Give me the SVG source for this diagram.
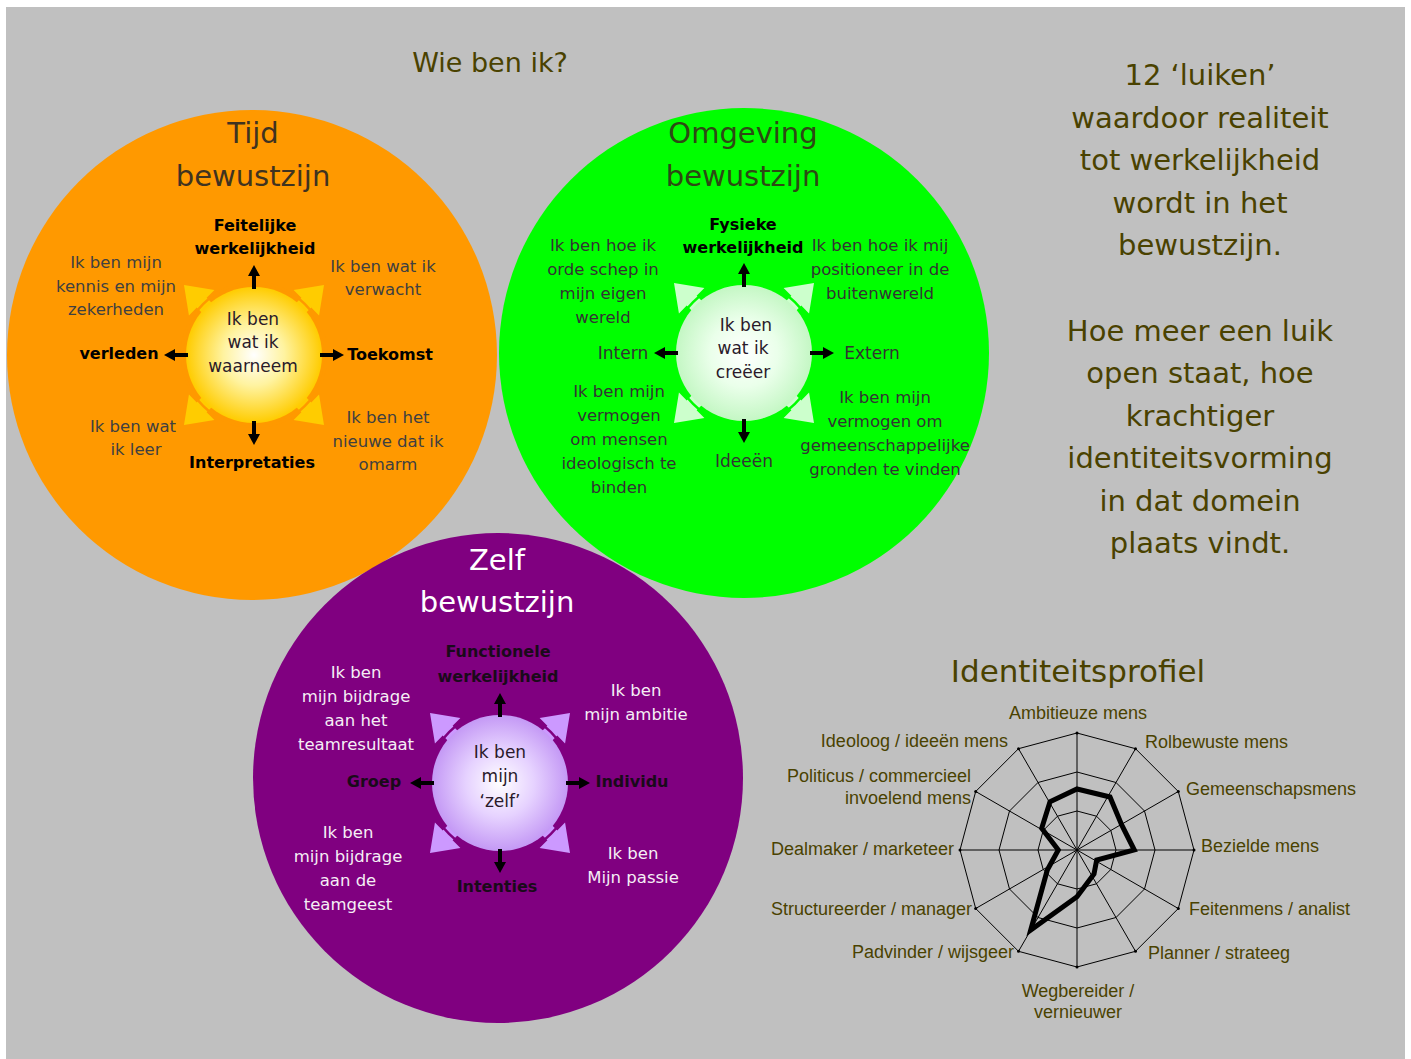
<svg xmlns="http://www.w3.org/2000/svg" width="1411" height="1059" viewBox="0 0 1411 1059">
<defs>
<style>
text{font-family:"DejaVu Sans","Liberation Sans",sans-serif;text-anchor:middle}
.t{font-size:29px}
.d{font-size:16.5px}
.b{font-size:16px;font-weight:bold;fill:#000}
.c{font-size:17px;fill:#2a1a2a}
.lab{font-size:17px}
.pl{font-size:16px;font-weight:bold}
.rt{font-size:29px;fill:#4a4200}
.rl{font-family:"Liberation Sans",Arial,sans-serif;font-size:18px;fill:#4a4200}
.ring{fill:none;stroke:#000;stroke-width:1}
</style>
<radialGradient id="gO" cx="0.5" cy="0.5" r="0.5">
<stop offset="0" stop-color="#ffffff"/><stop offset="0.45" stop-color="#fff3a0"/><stop offset="1" stop-color="#ffcc00"/>
</radialGradient>
<radialGradient id="gG" cx="0.5" cy="0.5" r="0.5">
<stop offset="0" stop-color="#ffffff"/><stop offset="0.5" stop-color="#eaffea"/><stop offset="1" stop-color="#c4f7c4"/>
</radialGradient>
<radialGradient id="gP" cx="0.5" cy="0.5" r="0.5">
<stop offset="0" stop-color="#ffffff"/><stop offset="0.5" stop-color="#e6d2ff"/><stop offset="1" stop-color="#c499f5"/>
</radialGradient>
<polygon id="diag" points="-7,-60 7,-60 7,-74 18,-74 0,-99 -18,-74 -7,-74"/>
<g id="blk"><rect x="-2" y="-80" width="4" height="14"/><polygon points="-6,-79 6,-79 0,-90"/></g>
</defs>

<rect x="0" y="0" width="1411" height="1059" fill="#ffffff"/>
<rect x="6" y="7" width="1399" height="1052" fill="#c0c0c0"/>

<text x="490" y="72" style="font-size:27px;fill:#4a4200">Wie ben ik?</text>

<!-- Tijd bewustzijn -->
<g id="tijd">
<circle cx="252" cy="355" r="245" fill="#ff9900"/>
<text class="t" x="253" y="143" fill="#3f3320">Tijd</text>
<text class="t" x="253" y="186" fill="#3f3320">bewustzijn</text>
<g fill="#ffcc00">
<use href="#diag" transform="translate(254,355) rotate(45)"/>
<use href="#diag" transform="translate(254,355) rotate(135)"/>
<use href="#diag" transform="translate(254,355) rotate(225)"/>
<use href="#diag" transform="translate(254,355) rotate(315)"/>
</g>
<circle cx="254" cy="355" r="72" fill="none" stroke="#ff9900" stroke-width="2.5"/>
<circle cx="254" cy="355" r="68" fill="url(#gO)"/>
<g fill="#000">
<use href="#blk" transform="translate(254,355)"/>
<use href="#blk" transform="translate(254,355) rotate(90)"/>
<use href="#blk" transform="translate(254,355) rotate(180)"/>
<use href="#blk" transform="translate(254,355) rotate(270)"/>
</g>
<text class="c" x="253" y="325">Ik ben</text>
<text class="c" x="253" y="348">wat ik</text>
<text class="c" x="253" y="372">waarneem</text>
<text class="b" x="255" y="231">Feitelijke</text>
<text class="b" x="255" y="254">werkelijkheid</text>
<text class="b" x="119" y="359">verleden</text>
<text class="b" x="390" y="360">Toekomst</text>
<text class="b" x="252" y="468">Interpretaties</text>
<g class="d" fill="#404040">
<text x="116" y="268">Ik ben mijn</text>
<text x="116" y="292">kennis en mijn</text>
<text x="116" y="315">zekerheden</text>
<text x="383" y="272">Ik ben wat ik</text>
<text x="383" y="295">verwacht</text>
<text x="133" y="432">Ik ben wat</text>
<text x="136" y="455">ik leer</text>
<text x="388" y="423">Ik ben het</text>
<text x="388" y="447">nieuwe dat ik</text>
<text x="388" y="470">omarm</text>
</g>
</g>

<!-- Omgeving bewustzijn -->
<g id="omgeving">
<circle cx="744" cy="353" r="245" fill="#00ff00"/>
<text class="t" x="743" y="143" fill="#2d4a14">Omgeving</text>
<text class="t" x="743" y="186" fill="#2d4a14">bewustzijn</text>
<g fill="#ccffcc">
<use href="#diag" transform="translate(744,353) rotate(45)"/>
<use href="#diag" transform="translate(744,353) rotate(135)"/>
<use href="#diag" transform="translate(744,353) rotate(225)"/>
<use href="#diag" transform="translate(744,353) rotate(315)"/>
</g>
<circle cx="744" cy="353" r="72" fill="none" stroke="#00ff00" stroke-width="2.5"/>
<circle cx="744" cy="353" r="68" fill="url(#gG)"/>
<g fill="#000">
<use href="#blk" transform="translate(744,353)"/>
<use href="#blk" transform="translate(744,353) rotate(90)"/>
<use href="#blk" transform="translate(744,353) rotate(180)"/>
<use href="#blk" transform="translate(744,353) rotate(270)"/>
</g>
<text class="c" x="746" y="331">Ik ben</text>
<text class="c" x="743" y="354">wat ik</text>
<text class="c" x="743" y="378">creëer</text>
<text class="b" x="743" y="230">Fysieke</text>
<text class="b" x="743" y="253">werkelijkheid</text>
<g class="lab" fill="#333333">
<text x="623" y="359">Intern</text>
<text x="872" y="359">Extern</text>
<text x="744" y="467">Ideeën</text>
</g>
<g class="d" fill="#333333">
<text x="603" y="251">Ik ben hoe ik</text>
<text x="603" y="275">orde schep in</text>
<text x="603" y="299">mijn eigen</text>
<text x="603" y="323">wereld</text>
<text x="880" y="251">Ik ben hoe ik mij</text>
<text x="880" y="275">positioneer in de</text>
<text x="880" y="299">buitenwereld</text>
<text x="619" y="397">Ik ben mijn</text>
<text x="619" y="421">vermogen</text>
<text x="619" y="445">om mensen</text>
<text x="619" y="469">ideologisch te</text>
<text x="619" y="493">binden</text>
<text x="885" y="403">Ik ben mijn</text>
<text x="885" y="427">vermogen om</text>
<text x="885" y="451">gemeenschappelijke</text>
<text x="885" y="475">gronden te vinden</text>
</g>
</g>

<!-- Zelf bewustzijn -->
<g id="zelf">
<circle cx="498" cy="778" r="245" fill="#800080"/>
<text class="t" x="497" y="570" fill="#ffffff">Zelf</text>
<text class="t" x="497" y="612" fill="#ffffff">bewustzijn</text>
<g fill="#cc99ff">
<use href="#diag" transform="translate(500,783) rotate(45)"/>
<use href="#diag" transform="translate(500,783) rotate(135)"/>
<use href="#diag" transform="translate(500,783) rotate(225)"/>
<use href="#diag" transform="translate(500,783) rotate(315)"/>
</g>
<circle cx="500" cy="783" r="72" fill="none" stroke="#800080" stroke-width="2.5"/>
<circle cx="500" cy="783" r="68" fill="url(#gP)"/>
<g fill="#000">
<use href="#blk" transform="translate(500,783)"/>
<use href="#blk" transform="translate(500,783) rotate(90)"/>
<use href="#blk" transform="translate(500,783) rotate(180)"/>
<use href="#blk" transform="translate(500,783) rotate(270)"/>
</g>
<text class="c" x="500" y="758">Ik ben</text>
<text class="c" x="500" y="782">mijn</text>
<text class="c" x="500" y="807">‘zelf’</text>
<g class="pl" fill="#1a0a1a">
<text x="498" y="657">Functionele</text>
<text x="498" y="682">werkelijkheid</text>
<text x="374" y="787">Groep</text>
<text x="632" y="787">Individu</text>
<text x="497" y="892">Intenties</text>
</g>
<g class="d" fill="#f5eef5">
<text x="356" y="678">Ik ben</text>
<text x="356" y="702">mijn bijdrage</text>
<text x="356" y="726">aan het</text>
<text x="356" y="750">teamresultaat</text>
<text x="636" y="696">Ik ben</text>
<text x="636" y="720">mijn ambitie</text>
<text x="348" y="838">Ik ben</text>
<text x="348" y="862">mijn bijdrage</text>
<text x="348" y="886">aan de</text>
<text x="348" y="910">teamgeest</text>
<text x="633" y="859">Ik ben</text>
<text x="633" y="883">Mijn passie</text>
</g>
</g>

<!-- Right text -->
<g id="uitleg" class="rt">
<text x="1200" y="85">12 ‘luiken’</text>
<text x="1200" y="128">waardoor realiteit</text>
<text x="1200" y="170">tot werkelijkheid</text>
<text x="1200" y="213">wordt in het</text>
<text x="1200" y="255">bewustzijn.</text>
<text x="1200" y="341">Hoe meer een luik</text>
<text x="1200" y="383">open staat, hoe</text>
<text x="1200" y="426">krachtiger</text>
<text x="1200" y="468">identiteitsvorming</text>
<text x="1200" y="511">in dat domein</text>
<text x="1200" y="553">plaats vindt.</text>
</g>

<!-- Radar chart -->
<g id="profiel">
<text x="1078" y="682" style="font-size:31px;fill:#4a4200">Identiteitsprofiel</text>
<polygon class="ring" points="1077,733 1135.5,748.7 1178.3,791.5 1194,850 1178.3,908.5 1135.5,951.3 1077,967 1018.5,951.3 975.7,908.5 960,850 975.7,791.5 1018.5,748.7"/>
<polygon class="ring" points="1077,772 1116,782.5 1144.5,811 1155,850 1144.5,889 1116,917.5 1077,928 1038,917.5 1009.5,889 999,850 1009.5,811 1038,782.5"/>
<polygon class="ring" points="1077,811 1096.5,816.2 1110.8,830.5 1116,850 1110.8,869.5 1096.5,883.8 1077,889 1057.5,883.8 1043.2,869.5 1038,850 1043.2,830.5 1057.5,816.2"/>
<g class="ring">
<line x1="1077" y1="733" x2="1077" y2="967"/>
<line x1="1135.5" y1="748.7" x2="1018.5" y2="951.3"/>
<line x1="1178.3" y1="791.5" x2="975.7" y2="908.5"/>
<line x1="1194" y1="850" x2="960" y2="850"/>
<line x1="1178.3" y1="908.5" x2="975.7" y2="791.5"/>
<line x1="1135.5" y1="951.3" x2="1018.5" y2="748.7"/>
</g>
<g fill="#000">
<circle cx="1077" cy="733" r="1.5"/><circle cx="1135.5" cy="748.7" r="1.5"/><circle cx="1178.3" cy="791.5" r="1.5"/><circle cx="1194" cy="850" r="1.5"/><circle cx="1178.3" cy="908.5" r="1.5"/><circle cx="1135.5" cy="951.3" r="1.5"/><circle cx="1077" cy="967" r="1.5"/><circle cx="1018.5" cy="951.3" r="1.5"/><circle cx="975.7" cy="908.5" r="1.5"/><circle cx="960" cy="850" r="1.5"/><circle cx="975.7" cy="791.5" r="1.5"/><circle cx="1018.5" cy="748.7" r="1.5"/>
</g>
<polygon points="1077,789 1110,797 1121.7,825 1134.3,850 1096.7,860 1094,874 1077,896.7 1030.7,930 1047.3,870 1058.3,850 1041.7,828.3 1050,801.7" fill="none" stroke="#000" stroke-width="5" stroke-linejoin="miter"/>
<text class="rl" x="1078" y="719">Ambitieuze mens</text>
<text class="rl" x="1145" y="748" style="text-anchor:start">Rolbewuste mens</text>
<text class="rl" x="1186" y="795" style="text-anchor:start">Gemeenschapsmens</text>
<text class="rl" x="1201" y="852" style="text-anchor:start">Bezielde mens</text>
<text class="rl" x="1189" y="915" style="text-anchor:start">Feitenmens / analist</text>
<text class="rl" x="1148" y="959" style="text-anchor:start">Planner / strateeg</text>
<text class="rl" x="1078" y="997">Wegbereider /</text>
<text class="rl" x="1078" y="1018">vernieuwer</text>
<text class="rl" x="1014" y="958" style="text-anchor:end">Padvinder / wijsgeer</text>
<text class="rl" x="972" y="915" style="text-anchor:end">Structureerder / manager</text>
<text class="rl" x="954" y="855" style="text-anchor:end">Dealmaker / marketeer</text>
<text class="rl" x="971" y="782" style="text-anchor:end">Politicus / commercieel</text>
<text class="rl" x="971" y="804" style="text-anchor:end">invoelend mens</text>
<text class="rl" x="1008" y="747" style="text-anchor:end">Ideoloog / ideeën mens</text>
</g>
</svg>
